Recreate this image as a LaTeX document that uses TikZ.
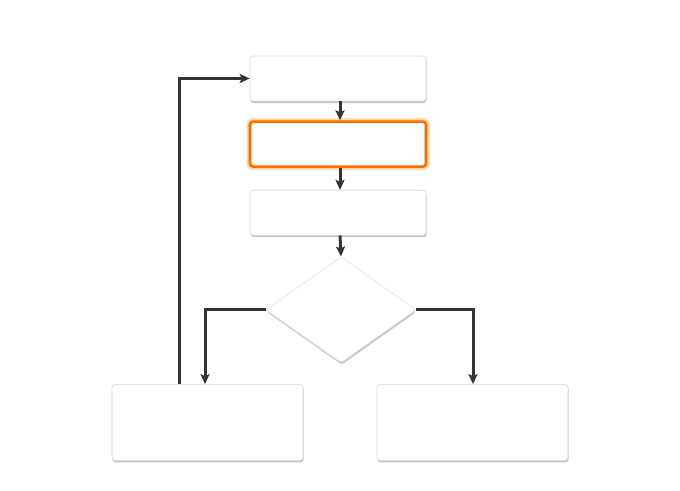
\documentclass[tikz,border=0pt]{standalone}
\usetikzlibrary{positioning, shapes.geometric, shadows, arrows.meta}

\tikzset{
  stepbox/.style={draw=black!15, fill=white, rounded corners=3pt, line width=0.6pt,
    minimum width=176pt, minimum height=45pt, inner sep=0pt,
    drop shadow={shadow xshift=0.6pt, shadow yshift=-2pt, fill=black!45}},
  flow/.style={draw=black!80, line width=3pt, -{Stealth[length=10pt, width=9pt, inset=2pt]}}
}

\begin{document}
\begin{tikzpicture}[x=1pt, y=-1pt, node distance=20pt]
  \useasboundingbox (0,0) rectangle (680,490);
  \node[stepbox] (start) at (338,78.5) {};
  \node[stepbox, below=19pt of start, draw=orange!85!red, line width=2.6pt,
    preaction={draw=orange!30, line width=7pt}] (active) {};
  \node[stepbox, below=22pt of active] (check) {};
  \node[draw=black!12, fill=white, diamond, rounded corners=3pt, line width=0.6pt,
    minimum width=150pt, minimum height=106pt, inner sep=0pt, below=21pt of check, xshift=3pt,
    drop shadow={shadow xshift=0.6pt, shadow yshift=-2pt, fill=black!45}] (decide) {};
  \node[stepbox, minimum width=191pt, minimum height=76pt, below=21pt of decide, xshift=-133.5pt] (retry) {};
  \node[stepbox, minimum width=191pt, minimum height=76pt, below=21pt of decide, xshift=131.5pt] (done) {};

  \draw[flow] (start.south -| 340,0) -- (active.north -| 340,0);
  \draw[flow] (active.south -| 340,0) -- (check.north -| 340,0);
  \draw[flow] (check.south -| 340,0) -- (decide.north);
  \draw[flow] (decide.west) -| (retry.north -| 205,0);
  \draw[flow] (decide.east) -| (done.north -| 473,0);
  \draw[flow] (retry.north -| 179,0) |- (start.west);
\end{tikzpicture}
\end{document}
